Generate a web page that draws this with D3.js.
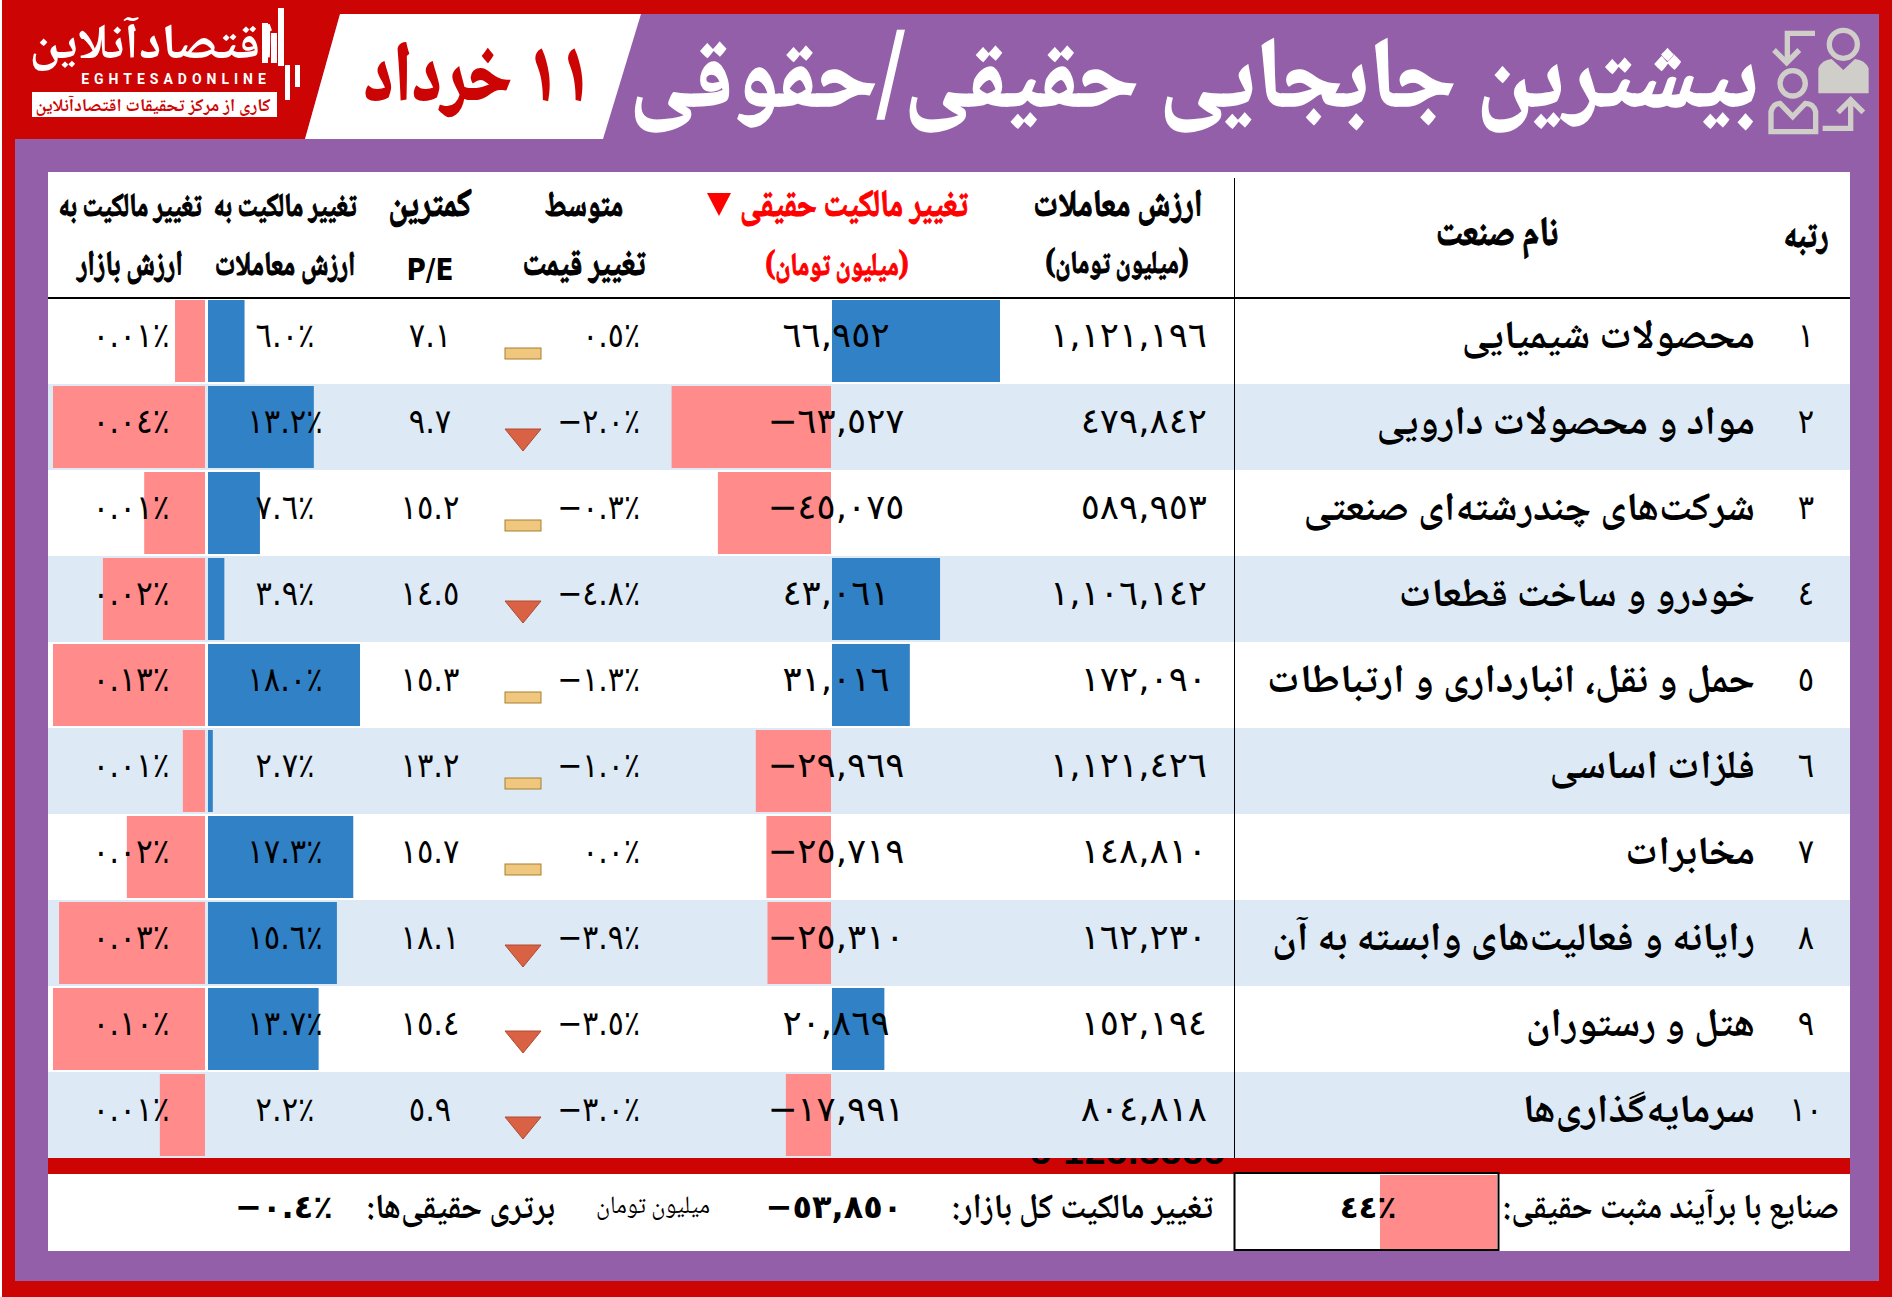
<!DOCTYPE html>
<html lang="fa"><head><meta charset="utf-8">
<style>
html,body{margin:0;padding:0;background:#fff}
svg{display:block}
.fa{font-family:"Noto Naskh Arabic","Noto Sans Arabic","DejaVu Sans",sans-serif;direction:rtl}
.num{font-family:"DejaVu Sans",sans-serif;direction:ltr;unicode-bidi:bidi-override}
</style>
<script src="https://cdn.jsdelivr.net/npm/d3@7"></script>
</head><body>
<div id="chart"></div>
<script>
// ---- data ----
const ranks=[1,2,3,4,5,6,7,8,9,10];
const industries=["محصولات شیمیایی","مواد و محصولات دارویی","شرکت‌های چندرشته‌ای صنعتی","خودرو و ساخت قطعات","حمل و نقل، انبارداری و ارتباطات","فلزات اساسی","مخابرات","رایانه و فعالیت‌های وابسته به آن","هتل و رستوران","سرمایه‌گذاری‌ها"];
const tradeValue=[1121196,479842,589953,1106142,172090,1121426,148810,162230,152194,804818];
const realOwnershipChange=[66952,-63527,-45075,43061,31016,-29969,-25719,-25310,20869,-17991];
const avgPriceChange=[0.5,-2.0,-0.3,-4.8,-1.3,-1.0,0.0,-3.9,-3.5,-3.0];
const lowestPE=[7.1,9.7,15.2,14.5,15.3,13.2,15.7,18.1,15.4,5.9];
const shareOfTrade=[6.0,13.2,7.6,3.9,18.0,2.7,17.3,15.6,13.7,2.2];
const shareOfMarket=[0.0069,0.036,0.014,0.0235,0.13,0.0051,0.018,0.0336,0.10,0.0104];
const headers=[["رتبه"],["نام صنعت"],["ارزش معاملات","(میلیون تومان)"],["تغییر مالکیت حقیقی","(میلیون تومان)"],["متوسط","تغییر قیمت"],["کمترین","P/E"],["تغییر مالکیت به","ارزش معاملات"],["تغییر مالکیت به","ارزش بازار"]];
const titleText="بیشترین جابجایی حقیقی/حقوقی";
const dateText="۱۱ خرداد";
const marketTotal=-53850, realEdge=-0.4, positiveShare=44;

const W=1892,H=1297;
const RED="#cc0404",PURPLE="#945fa9",BAND="#ddeaf6",BLUE="#3181c6",PINK="#ff8b8b";
const svg=d3.select("#chart").append("svg").attr("width",W).attr("height",H).attr("viewBox",[0,0,W,H]);
const ar=s=>String(s).replace(/[0-9]/g,d=>"٠١٢٣٤٥٦٧٨٩"[+d]);
const signed=s=>s.replace("-","–");
const fmtInt=v=>signed(ar(d3.format(",")(v)));
const fmt1=v=>signed(ar(d3.format(".1f")(v)));
const fmtPct=v=>fmt1(v)+"٪";
const fmtPct2=v=>signed(ar(d3.format(".2f")(v)))+"٪";

const y=d3.scaleBand().domain(ranks).range([298,1158]);
const xReal=d3.scaleLinear().domain([0,66952]).range([832,1000]);
const xTrade=d3.scaleLinear().domain([2.2,18]).range([208,360]);
const xMarket=d3.scaleLinear().domain([0,0.035]).range([205,53]).clamp(true);

// frame
svg.append("rect").attr("x",2).attr("width",W-2).attr("height",H).attr("fill",RED);
svg.append("rect").attr("x",15).attr("y",14).attr("width",1864).attr("height",1267).attr("fill",PURPLE);
svg.append("path").attr("d","M15 14H340L305 139H15Z").attr("fill",RED);
svg.append("path").attr("d","M340 14H641L603 139H305Z").attr("fill","#fff");
svg.append("rect").attr("x",48).attr("y",172).attr("width",1802).attr("height",1079).attr("fill","#fff");

function label(sel,cls,txt,x,yy,size,o={}){
  let a=o.anchor||"middle";
  if(cls==="fa"&&a!=="middle") a=a==="end"?"start":"end"; // rtl flips start and end
  const t=sel.append("text").attr("class",cls).attr("text-anchor",a)
    .attr("transform",`translate(${x},${yy}) scale(${o.k||1},1)`)
    .attr("font-size",size).attr("font-weight",o.weight||"normal").attr("fill",o.fill||"#000").text(txt);
  if(o.stroke) t.attr("stroke",o.fill||"#000").attr("stroke-width",o.stroke);
  return t;
}
// title + date
label(svg,"fa",titleText,1758,107,100,{anchor:"end",weight:"bold",fill:"#fff",k:0.93,stroke:1.5});
label(svg,"fa",dateText,478,100,84,{weight:"bold",fill:RED,k:0.8,stroke:2});

// logo
const logo=svg.append("g");
label(logo,"fa","اقتصادآنلاین",152,58,50,{weight:"bold",fill:"#fff",k:1.03});
[[262,23,6,40],[271,33,6,30],[278,8,6,58],[285,65,5,35],[295,65,5,22]].forEach(b=>logo.append("rect").attr("x",b[0]).attr("y",b[1]).attr("width",b[2]).attr("height",b[3]).attr("fill","#fff"));
label(logo,"","EGHTESADONLINE",176,84,14,{weight:"bold",fill:"#fff"}).attr("font-family","Roboto").attr("letter-spacing",5);
logo.append("rect").attr("x",32).attr("y",92).attr("width",245).attr("height",25).attr("fill","#fff");
label(logo,"fa","کاری از مرکز تحقیقات اقتصادآنلاین",153,111,18,{weight:"bold",fill:RED});

// icon
const icon=svg.append("g").attr("transform","translate(1750,15) scale(0.3333)").attr("fill","none").attr("stroke","#d0cec9").attr("stroke-width",16);
icon.append("circle").attr("cx",280).attr("cy",88).attr("r",42);
icon.append("path").attr("d","M205 235V160Q215 135 245 132L280 165L315 132Q345 135 356 160V235Z").attr("fill","#d0cec9").attr("stroke","none");
icon.append("circle").attr("cx",128).attr("cy",205).attr("r",38);
icon.append("path").attr("d","M63 350V290Q70 265 90 265L128 305L166 265Q190 265 197 290V350Z");
icon.append("path").attr("d","M195 55H112V135M72 105L110 143L148 105");
icon.append("path").attr("d","M218 340H302V260M264 292L302 254L340 292");

// rows
svg.append("g").selectAll("rect").data(ranks.filter(r=>r%2===0)).join("rect")
  .attr("x",48).attr("width",1802).attr("y",r=>y(r)).attr("height",y.bandwidth()).attr("fill",BAND);

const rows=ranks.map((r,i)=>({r,i}));
const barTop=r=>y(r)+2, bh=y.bandwidth()-4;
svg.append("g").selectAll("rect").data(rows).join("rect")
  .attr("x",d=>xMarket(shareOfMarket[d.i])).attr("y",d=>barTop(d.r)).attr("height",bh)
  .attr("width",d=>xMarket(0)-xMarket(shareOfMarket[d.i])).attr("fill",PINK);
svg.append("g").selectAll("rect").data(rows).join("rect")
  .attr("x",xTrade(2.2)).attr("y",d=>barTop(d.r)).attr("height",bh)
  .attr("width",d=>xTrade(shareOfTrade[d.i])-xTrade(2.2)).attr("fill",BLUE);
svg.append("g").selectAll("rect").data(rows).join("rect")
  .attr("x",d=>{const v=realOwnershipChange[d.i];return v>=0?xReal(0):xReal(v)-1;})
  .attr("y",d=>barTop(d.r)).attr("height",bh)
  .attr("width",d=>Math.abs(xReal(realOwnershipChange[d.i])-xReal(0)))
  .attr("fill",d=>realOwnershipChange[d.i]>=0?BLUE:PINK);

// price icons
const iconRow=svg.append("g").selectAll("g").data(rows).join("g").attr("transform",d=>`translate(523,${y(d.r)})`);
iconRow.filter(d=>avgPriceChange[d.i]<=-1.5).append("path").attr("d","M-18 45H18L0 67Z").attr("fill","#d96245").attr("stroke","#b04a30");
iconRow.filter(d=>avgPriceChange[d.i]>-1.5).append("rect").attr("x",-18).attr("y",50).attr("width",36).attr("height",11).attr("fill","#efc77e").attr("stroke","#a87f2e");

// column text
const col=(fn,x,anchor,cls,size,o={})=>svg.append("g").selectAll("g").data(rows).join("g").each(function(d){
  label(d3.select(this),cls,fn(d),x,y(d.r)+(o.dy||49),size,Object.assign({anchor},o));
});
col(d=>ar(d.r),1806,"middle","num",34,{k:0.9});
col(d=>industries[d.i],1755,"end","fa",40,{weight:"bold",k:1.02,dy:50});
col(d=>fmtInt(tradeValue[d.i]),1207,"end","num",35,{k:1.02});
col(d=>fmtInt(realOwnershipChange[d.i]),836,"middle","num",35,{k:1.02});
col(d=>fmtPct(avgPriceChange[d.i]),640,"end","num",34,{k:0.88});
col(d=>fmt1(lowestPE[d.i]),430,"middle","num",34,{k:0.9});
col(d=>fmtPct(shareOfTrade[d.i]),285,"middle","num",34,{k:0.9});
col(d=>fmtPct2(shareOfMarket[d.i]),131,"middle","num",34,{k:0.92});

// headers
const hOpt=(k,fill)=>({weight:"bold",k,stroke:1.1,fill:fill||"#000"});
label(svg,"fa",headers[0][0],1806,247,38,hOpt(0.8));
label(svg,"fa",headers[1][0],1497,245,41,hOpt(0.82));
label(svg,"fa",headers[2][0],1118,216,38,hOpt(0.82));
label(svg,"fa",headers[2][1],1117,273,32,hOpt(0.78));
label(svg,"fa",headers[3][0],854,216,38,hOpt(0.8,"#ff0000"));
label(svg,"fa",headers[3][1],837,275,32,hOpt(0.78,"#ff0000"));
svg.append("path").attr("d","M707 193H731L719 216Z").attr("fill","#ff0000");
label(svg,"fa",headers[4][0],584,216,36,hOpt(0.76));
label(svg,"fa",headers[4][1],584,275,38,hOpt(0.78));
label(svg,"fa",headers[5][0],430,216,40,hOpt(0.82));
label(svg,"num",headers[5][1],430,280,30,{weight:"bold",k:0.88});
label(svg,"fa",headers[6][0],285,216,33,hOpt(0.76));
label(svg,"fa",headers[6][1],285,275,34,hOpt(0.76));
label(svg,"fa",headers[7][0],130,216,33,hOpt(0.76));
label(svg,"fa",headers[7][1],130,275,35,hOpt(0.77));

// lines
svg.append("line").attr("x1",48).attr("x2",1850).attr("y1",298).attr("y2",298).attr("stroke","#000").attr("stroke-width",2);
svg.append("line").attr("x1",1234.5).attr("x2",1234.5).attr("y1",178).attr("y2",1158).attr("stroke","#000").attr("stroke-width",1);

// footer
svg.append("rect").attr("x",48).attr("y",1158).attr("width",1802).attr("height",16).attr("fill",RED);
svg.append("defs").append("clipPath").attr("id","cut").append("rect").attr("x",1030).attr("y",1158).attr("width",196).attr("height",6);
label(svg.append("g").attr("clip-path","url(#cut)"),"","55 125.55555",1128,1164,37,{weight:"bold"}).attr("font-family","Liberation Sans").attr("letter-spacing",1);
svg.append("rect").attr("x",1380).attr("y",1175).attr("width",117).attr("height",74).attr("fill",PINK);
svg.append("rect").attr("x",1234.5).attr("y",1173).attr("width",264).attr("height",77).attr("fill","none").attr("stroke","#000").attr("stroke-width",2);
const fy=1218;
label(svg,"fa","صنایع با برآیند مثبت حقیقی:",1839,fy,35,{anchor:"end",weight:"bold",k:0.92});
label(svg,"num",ar(positiveShare)+"٪",1368,fy,31,{weight:"bold"});
label(svg,"fa","تغییر مالکیت کل بازار:",1213,fy,35,{anchor:"end",weight:"bold",k:0.92});
label(svg,"num",fmtInt(marketTotal),834,fy,32,{weight:"bold"});
label(svg,"fa","میلیون تومان",653,fy-5,25,{k:0.95});
label(svg,"fa","برتری حقیقی‌ها:",555,fy,35,{anchor:"end",weight:"bold",k:0.92});
label(svg,"num",fmt1(realEdge)+"٪",284,fy,32,{weight:"bold"});
</script>
</body></html>
